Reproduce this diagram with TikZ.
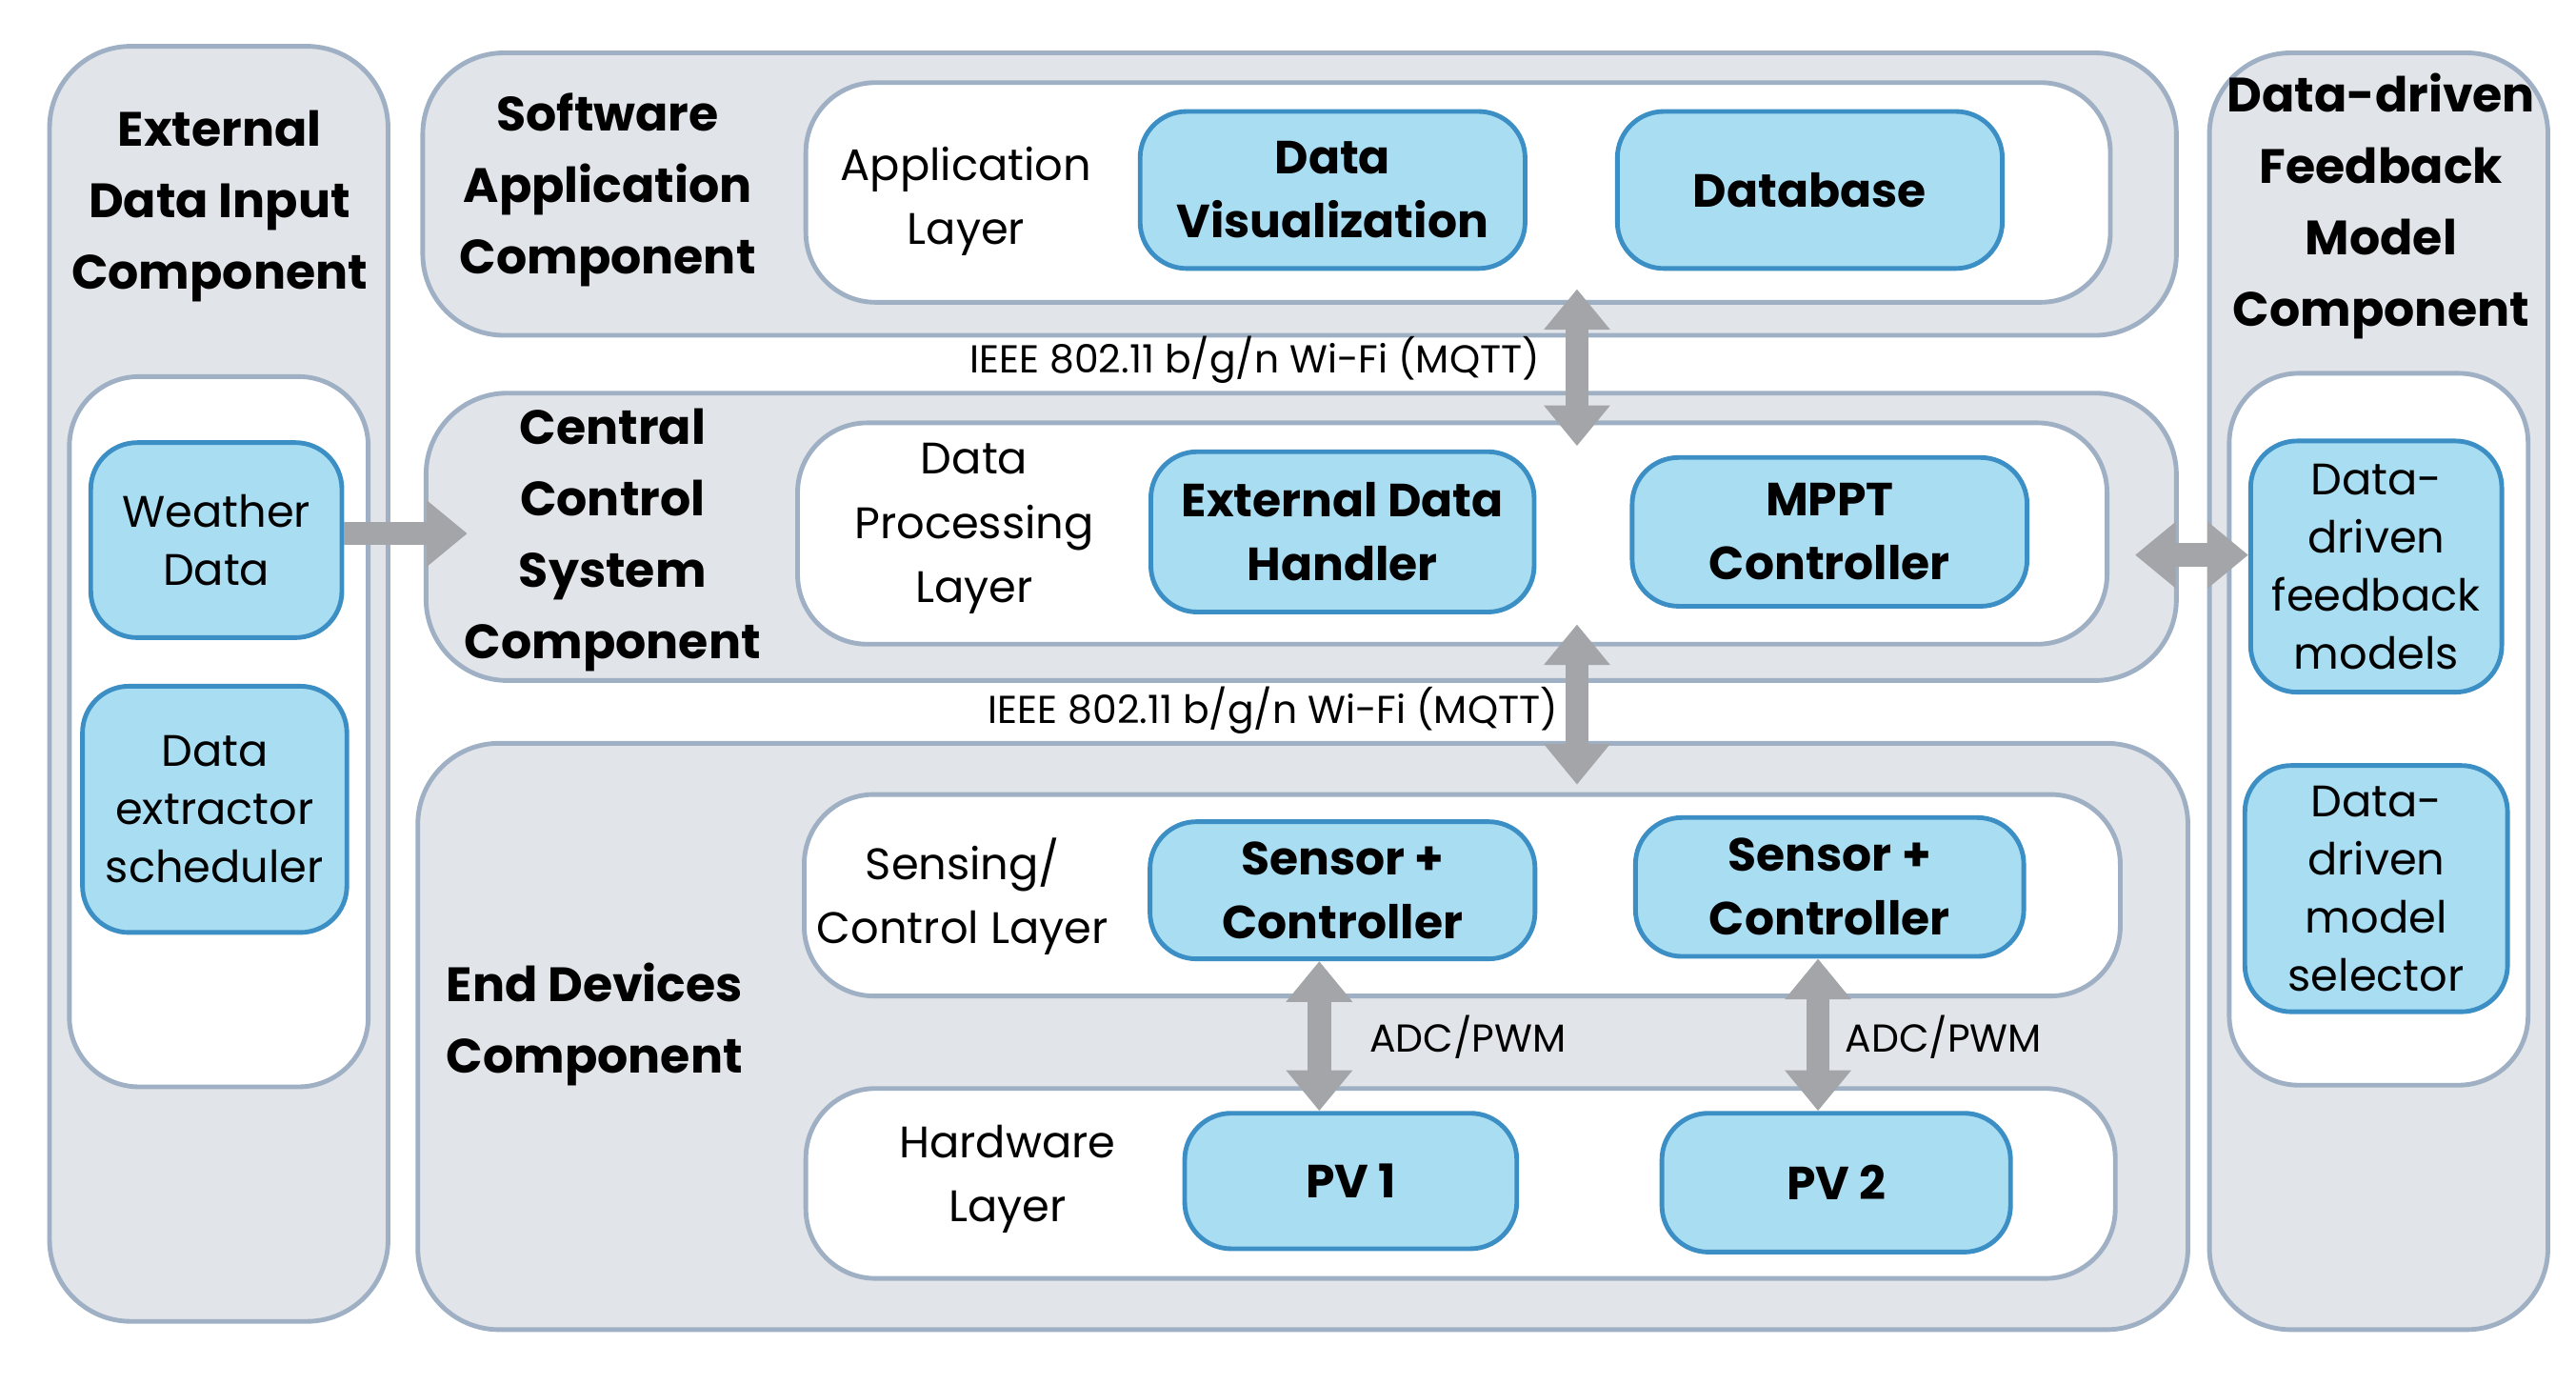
\documentclass[tikz,border=0pt]{standalone}
\usepackage{fontspec}
\setmainfont{Poppins}
\usetikzlibrary{arrows.meta}
\definecolor{panelgray}{HTML}{E1E4E9}
\definecolor{panelline}{HTML}{9FB0C4}
\definecolor{boxblue}{HTML}{A9DDF2}
\definecolor{boxline}{HTML}{3C8FC4}
\definecolor{arrowgray}{HTML}{A3A5A8}
\tikzset{%
  tipA/.tip={Triangle[width=11pt,length=7pt]},
  panel/.style={draw=panelline, fill=panelgray, line width=0.8pt, rounded corners=14pt},
  layer/.style={draw=panelline, fill=white, line width=0.8pt, rounded corners=12pt},
  box/.style={draw=boxline, fill=boxblue, line width=0.8pt, rounded corners=8pt, inner sep=1pt, align=center, font=\bfseries\fontsize{8}{11}\selectfont},
  softbox/.style={box, font=\fontsize{7.6}{10}\selectfont},
  title/.style={align=center, font=\bfseries\fontsize{8.3}{12.3}\selectfont},
  lbl/.style={align=center, font=\fontsize{7.6}{11}\selectfont},
  small/.style={font=\fontsize{6.7}{8}\selectfont},
  fat/.style={arrowgray, line width=4pt}
}
\begin{document}
\begin{tikzpicture}[x=0.01cm,y=-0.01cm]
\useasboundingbox (0,0) rectangle (1560,838);
% panels
\draw[panel] (30,28) rectangle (235,800);
\draw[layer] (42,228) rectangle (223,658);
\draw[panel] (256,32) rectangle (1318,203);
\draw[layer] (488,50) rectangle (1278,183);
\draw[panel] (258,238) rectangle (1318,412);
\draw[layer] (483,256) rectangle (1276,390);
\draw[panel] (253,450) rectangle (1325,805);
\draw[layer] (487,481) rectangle (1284,603);
\draw[layer] (488,659) rectangle (1281,774);
\draw[panel] (1338,32) rectangle (1543,805);
\draw[layer] (1350,226) rectangle (1531,657);
% titles
\node[title] (tExt) at (133,125) {External\\Data Input\\Component};
\node[title] (tSoft) at (368,115) {Software\\Application\\Component};
\node[title] (tCen) at (371,327) {Central\\Control\\System\\Component};
\node[title] (tEnd) at (360,620) {End Devices\\Component};
\node[title] (tFb) at (1442,125) {Data-driven\\Feedback\\Model\\Component};
\node[lbl] (lApp) at (585,122) {Application\\Layer};
\node[lbl] (lProc) at (590,320) {Data\\Processing\\Layer};
\node[lbl] (lSens) at (583,543) {Sensing/\\Control Layer};
\node[lbl] (lHw) at (610,714) {Hardware\\Layer};
% boxes
\node[softbox, minimum width=1.52cm, minimum height=1.18cm] (weather) at (131,327) {Weather\\Data};
\node[softbox, minimum width=1.60cm, minimum height=1.49cm] (extract) at (130,490) {Data\\extractor\\scheduler};
\node[box, minimum width=2.33cm, minimum height=0.95cm] (dvis) at (807,115) {Data\\Visualization};
\node[box, minimum width=2.33cm, minimum height=0.95cm] (dbase) at (1096,115) {Database};
\node[box, minimum width=2.32cm, minimum height=0.97cm] (exth) at (813,322) {External Data\\Handler};
\node[box, minimum width=2.39cm, minimum height=0.90cm] (mppt) at (1108,322) {MPPT\\Controller};
\node[box, minimum width=2.33cm, minimum height=0.83cm] (sc1) at (813,539) {Sensor +\\Controller};
\node[box, minimum width=2.35cm, minimum height=0.84cm] (sc2) at (1108,537) {Sensor +\\Controller};
\node[box, minimum width=2.01cm, minimum height=0.82cm] (pv1) at (818,715) {PV 1};
\node[box, minimum width=2.11cm, minimum height=0.84cm] (pv2) at (1112,716) {PV 2};
\node[softbox, minimum width=1.52cm, minimum height=1.52cm] (fbm) at (1439,343) {Data-\\driven\\feedback\\models};
\node[softbox, minimum width=1.59cm, minimum height=1.49cm] (msel) at (1439,538) {Data-\\driven\\model\\selector};
% connectors
\coordinate (wifiA) at (955,175);
\coordinate (wifiB) at (955,270);
\coordinate (wifiC) at (955,378);
\coordinate (wifiD) at (955,475);
\coordinate (fbIn) at (1293,336);
\coordinate (cenIn) at (283,323);
\draw[fat, tipA-tipA] (wifiA) -- (wifiB);
\draw[fat, tipA-tipA] (wifiC) -- (wifiD);
\draw[fat, -tipA] (weather.east |- cenIn) -- (cenIn);
\draw[fat, tipA-tipA] (fbIn) -- (fbm.west |- fbIn);
\draw[fat, tipA-tipA] ([xshift=-4pt]sc1.south) -- ([xshift=-4pt]sc1.south |- pv1.north);
\draw[fat, tipA-tipA] ([xshift=-2pt]sc2.south) -- ([xshift=-2pt]sc2.south |- pv2.north);
\node[small] (wifi1) at (760,218) {IEEE 802.11 b/g/n Wi-Fi (MQTT)};
\node[small] (wifi2) at (771,430) {IEEE 802.11 b/g/n Wi-Fi (MQTT)};
\node[small] (adc1) at (889,628) {ADC/PWM};
\node[small] (adc2) at (1177,628) {ADC/PWM};
\end{tikzpicture}
\end{document}
